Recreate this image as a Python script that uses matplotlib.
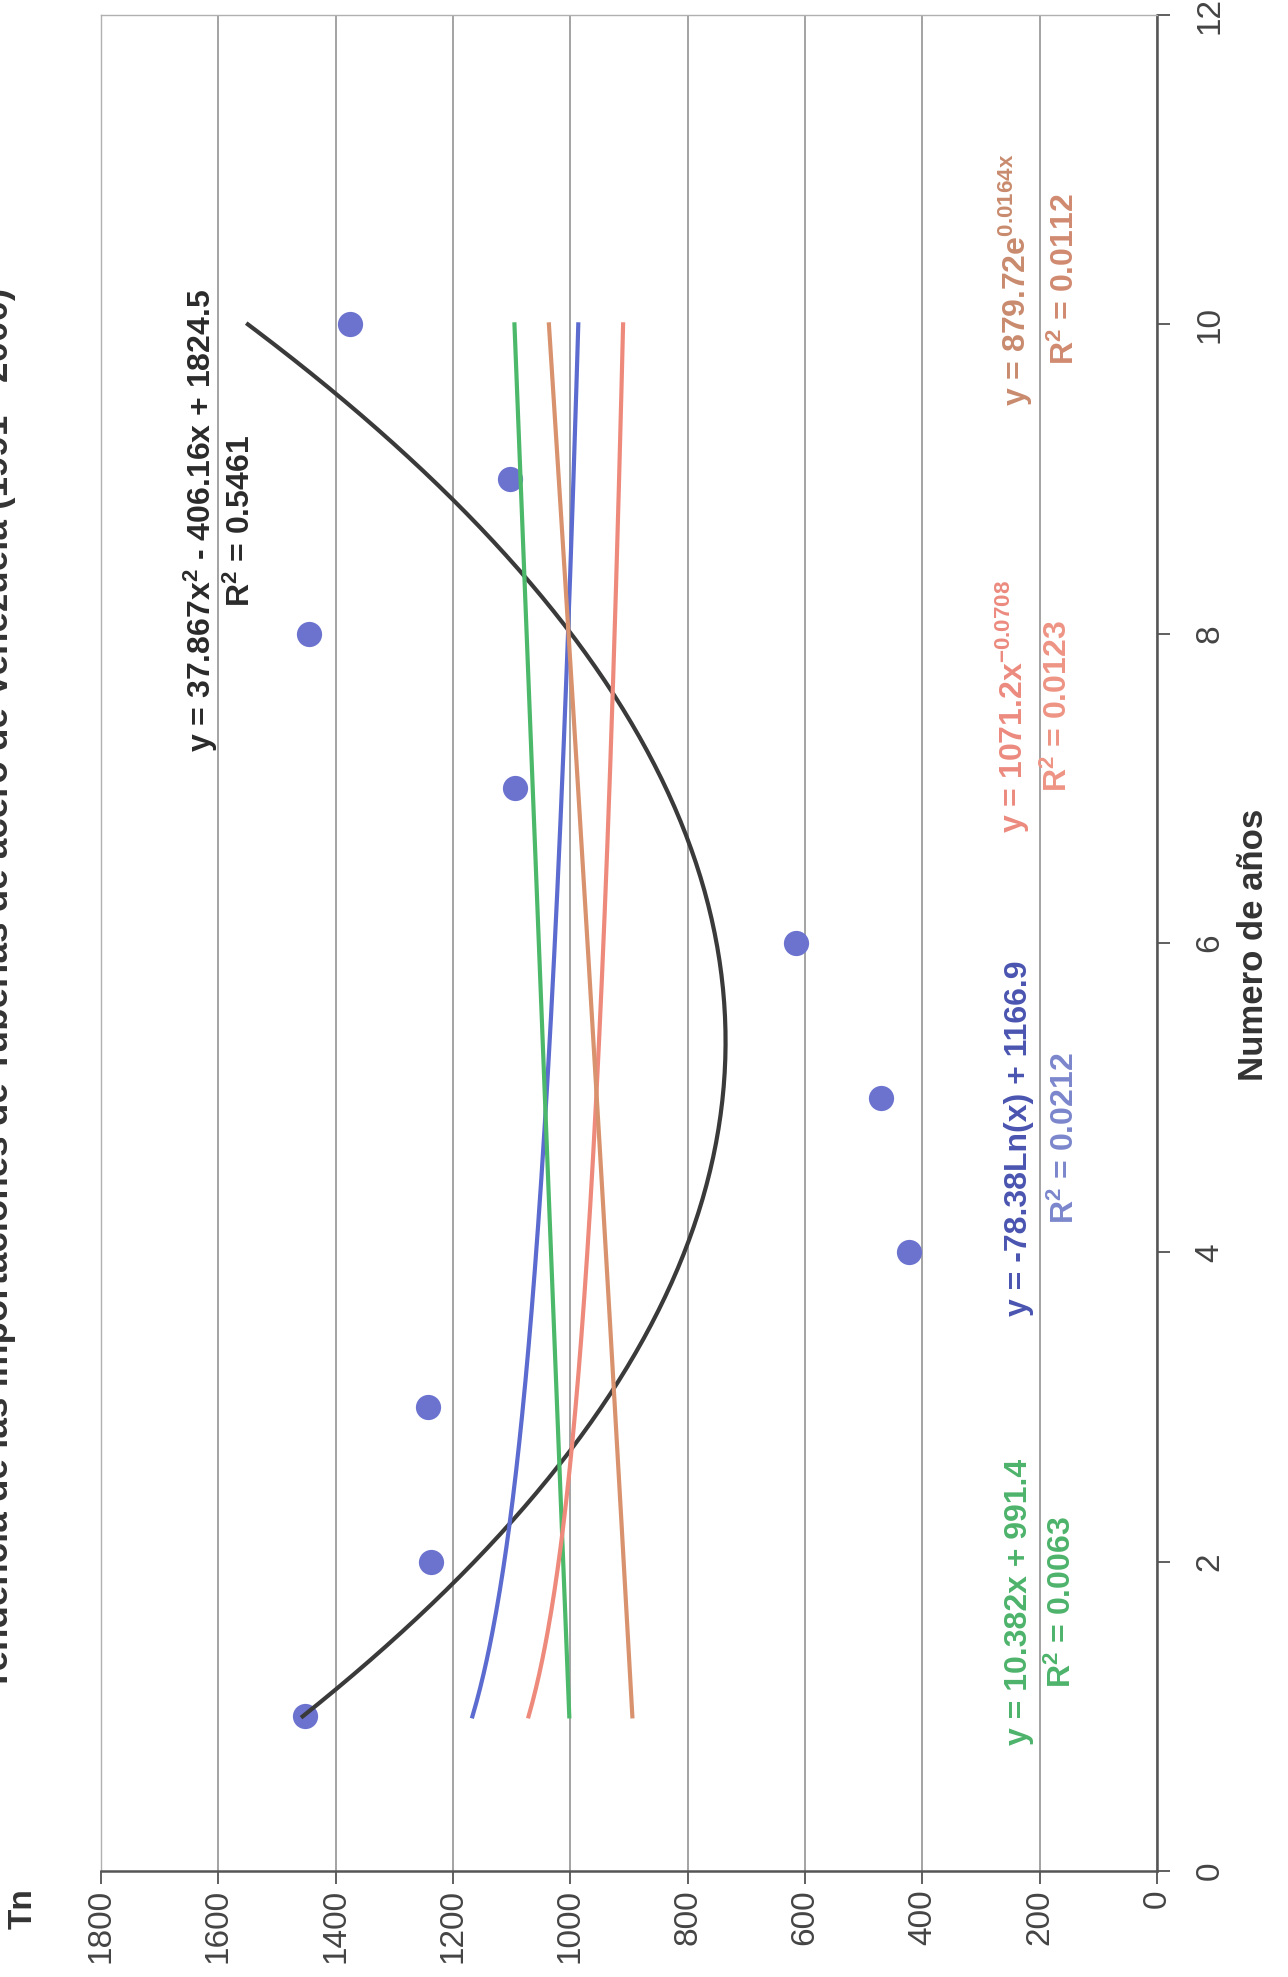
import numpy as np
import matplotlib
matplotlib.use('Agg')
import matplotlib.pyplot as plt

plt.rcParams['font.family'] = ['Liberation Sans', 'DejaVu Sans']
plt.rcParams['mathtext.fontset'] = 'custom'
plt.rcParams['mathtext.rm'] = 'Liberation Sans:bold'
plt.rcParams['mathtext.it'] = 'Liberation Sans:bold'
plt.rcParams['mathtext.bf'] = 'Liberation Sans:bold'
plt.rcParams['mathtext.default'] = 'rm'

# Tonnes imported per year (1991 - 2000 -> year 1..10)
years = np.arange(1, 11)
tn = [1453, 1238, 1242, 422, 471, 615, 1094, 1446, 1103, 1375]

# trendline coefficients as printed on the chart
poly_coef = [37.867, -406.16, 1824.5]
log_coef = [-78.38, 1166.9]
lin_coef = [10.382, 991.4]
pow_coef = [1071.2, -0.0708]
exp_coef = [879.72, 0.0164]

tn_ticks = list(range(0, 1801, 200))
year_ticks = list(range(0, 13, 2))

title = 'Tendencia de las importaciones de Tuberías de acero de Venezuela (1991 - 2000)'

fig = plt.figure(figsize=(12.88, 19.77), dpi=100)
ax = fig.add_axes([0.0784, 0.0536, 0.8199, 0.9388])

xs = np.linspace(1, 10, 200)
trends = [
    (np.polyval(poly_coef, xs), '#3a3a3a'),
    (log_coef[0] * np.log(xs) + log_coef[1], '#5b6bcf'),
    (lin_coef[0] * xs + lin_coef[1], '#4cb86a'),
    (pow_coef[0] * xs ** pow_coef[1], '#ee8a7c'),
    (exp_coef[0] * np.exp(exp_coef[1] * xs), '#d9926e'),
]

# chart is rotated: Tn runs along the horizontal (reversed), years go up
ax.scatter(tn, years, s=330, color='#6b73cf', zorder=3, linewidths=0)
for vals, col in trends:
    ax.plot(vals, xs, color=col, lw=3, zorder=4)

ax.set_xlim(1800, 0)
ax.set_ylim(0, 12)
ax.set_xticks(tn_ticks)
ax.set_yticks(year_ticks)
ax.xaxis.grid(True, color='#8a8a8a', lw=1.1)
ax.set_axisbelow(True)

ax.yaxis.tick_right()
ax.tick_params(axis='x', labelrotation=90, labelsize=24, length=9, width=1.2,
               pad=4, colors='#444444')
ax.tick_params(axis='y', labelrotation=90, labelsize=24, length=9, width=1.2,
               pad=18, colors='#444444')
for lab in ax.get_yticklabels():
    lab.set_va('center')

for side in ['right', 'bottom']:
    ax.spines[side].set_color('#555555')
    ax.spines[side].set_linewidth(1.8)
for side in ['left', 'top']:
    ax.spines[side].set_color('#b0b0b0')
    ax.spines[side].set_linewidth(1)

# trendline equations
labels = [
    (1630, 8.73, 'y = 37.867$x^{2}$ - 406.16x + 1824.5', '#2a2a2a'),
    (1560, 8.73, '$R^{2}$ = 0.5461', '#2a2a2a'),
    (245, 7.53, 'y = 1071.2$x^{-0.0708}$', '#ec8a7e'),
    (168, 7.53, '$R^{2}$ = 0.0123', '#ee9484'),
    (240, 10.29, 'y = 879.72$e^{0.0164x}$', '#c98b6e'),
    (156, 10.29, '$R^{2}$ = 0.0112', '#d08a70'),
    (235, 4.74, 'y = -78.38Ln(x) + 1166.9', '#4a55b0'),
    (156, 4.74, '$R^{2}$ = 0.0212', '#7b86cc'),
    (235, 1.74, 'y = 10.382x + 991.4', '#4db36b'),
    (161, 1.74, '$R^{2}$ = 0.0063', '#4db36b'),
]
for x, y, txt, col in labels:
    ax.text(x, y, txt, rotation=90, ha='center', va='center', fontsize=23,
            fontweight='bold', color=col)

fig.text(0.0179, 0.0344, 'Tn', rotation=90, ha='center', va='center',
         fontsize=24, fontweight='bold', color='#333333')
fig.text(0.9736, 0.522, 'Numero de años', rotation=90, ha='center', va='center',
         fontsize=25, fontweight='bold', color='#333333')
fig.text(0.0125, 0.4997, title, rotation=90, ha='right', va='center',
         fontsize=26.5, fontweight='bold', color='#333333')

fig.savefig('out.png', dpi=100)
